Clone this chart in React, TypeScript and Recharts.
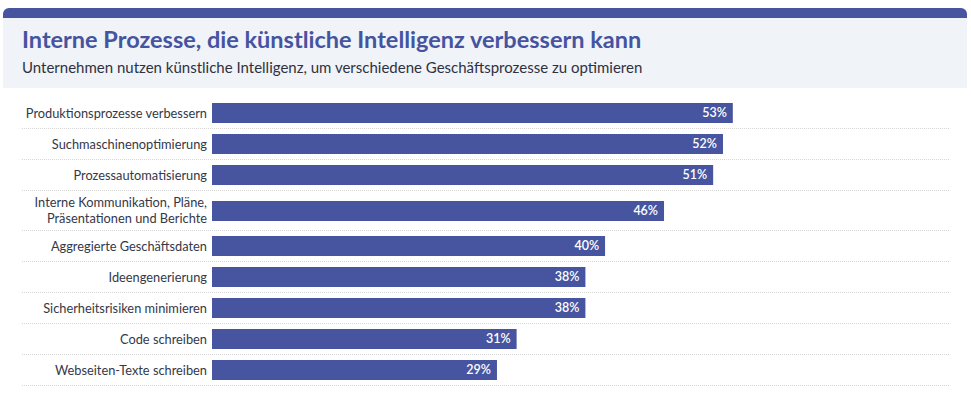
import { BarChart, Bar, XAxis, YAxis, LabelList } from 'recharts'

const categories = [
  'Produktionsprozesse verbessern',
  'Suchmaschinenoptimierung',
  'Prozessautomatisierung',
  'Interne Kommunikation, Pläne,\nPräsentationen und Berichte',
  'Aggregierte Geschäftsdaten',
  'Ideengenerierung',
  'Sicherheitsrisiken minimieren',
  'Code schreiben',
  'Webseiten-Texte schreiben',
]

const shares = [53, 52, 51, 46, 40, 38, 38, 31, 29]

const xDomain: [number, number] = [0, 75]

const BLUE = '#4755a1'
const FONT = 'Lato, "Open Sans", sans-serif'

function LabelTick({ x, y, payload }: any) {
  const lines = String(payload.value).split('\n')
  const lh = 15.5
  const startY = y - ((lines.length - 1) * lh) / 2
  return (
    <text x={x} y={startY} textAnchor="end" fill="#353848" fontSize={12.8} fontFamily={FONT}>
      {lines.map((l, i) => (
        <tspan key={i} x={x} y={startY + i * lh} dy="0.36em">
          {l}
        </tspan>
      ))}
    </text>
  )
}

function Row({ label, value }: { label: string; value: number }) {
  const tall = label.includes('\n')
  const h = tall ? 39 : 30
  return (
    <div style={{ borderBottom: '1px dotted #d6d6d6', width: 927 }}>
      <BarChart
        layout="vertical"
        width={927}
        height={h}
        data={[{ label, value }]}
        margin={{ top: 0, right: 0, left: 0, bottom: 0 }}
      >
        <XAxis type="number" domain={xDomain} hide />
        <YAxis
          type="category"
          dataKey="label"
          width={190}
          axisLine={false}
          tickLine={false}
          tickSize={0}
          tickMargin={5}
          tick={<LabelTick />}
        />
        <Bar dataKey="value" fill={BLUE} barSize={20} isAnimationActive={false}>
          <LabelList
            dataKey="value"
            position="insideRight"
            offset={6}
            fill="#ffffff"
            fontSize={12.5}
            fontWeight={600}
            fontFamily={FONT}
            formatter={(v: any) => `${v}%`}
          />
        </Bar>
      </BarChart>
    </div>
  )
}

export default function App() {
  return (
    <div
      style={{
        position: 'absolute',
        left: 0,
        top: 0,
        width: 971,
        height: 404,
        background: '#ffffff',
        fontFamily: FONT,
      }}
    >
      <div
        style={{
          position: 'absolute',
          left: 3,
          top: 8,
          width: 964,
          height: 10,
          background: BLUE,
          borderRadius: '6px 6px 0 0',
        }}
      />
      <div
        style={{
          position: 'absolute',
          left: 3,
          top: 18,
          width: 964,
          height: 70,
          background: '#f0f3f8',
        }}
      >
        <div
          style={{
            position: 'absolute',
            left: 19,
            top: 7,
            fontSize: 23.5,
            fontWeight: 700,
            color: '#4654a0',
            whiteSpace: 'nowrap',
          }}
        >
          Interne Prozesse, die künstliche Intelligenz verbessern kann
        </div>
        <div
          style={{
            position: 'absolute',
            left: 19,
            top: 40,
            fontSize: 15,
            color: '#2f3140',
            whiteSpace: 'nowrap',
          }}
        >
          Unternehmen nutzen künstliche Intelligenz, um verschiedene Geschäftsprozesse zu optimieren
        </div>
      </div>
      <div style={{ position: 'absolute', left: 22, top: 98 }}>
        {categories.map((c, i) => (
          <Row key={c} label={c} value={shares[i]} />
        ))}
      </div>
    </div>
  )
}
